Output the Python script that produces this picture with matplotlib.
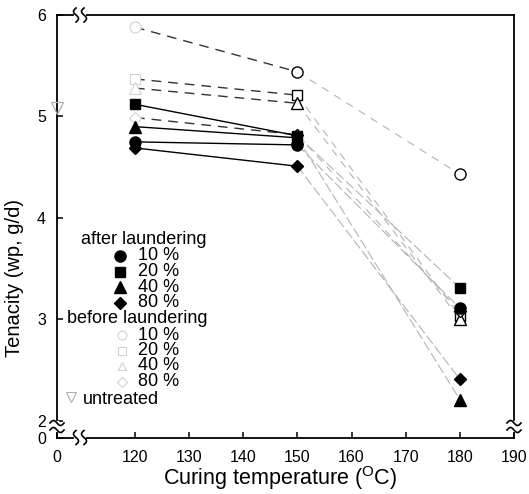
import numpy as np
import matplotlib
matplotlib.use("Agg")
import matplotlib.pyplot as plt

plt.rcParams["font.family"] = ["Liberation Sans", "DejaVu Sans"]
plt.rcParams["mathtext.fontset"] = "custom"
plt.rcParams["mathtext.rm"] = "Liberation Sans"
plt.rcParams["mathtext.it"] = "Liberation Sans:italic"

# ---- data -------------------------------------------------------------
temps = [120, 150, 180]

after_10 = [4.75, 4.72, 3.11]
after_20 = [5.12, 4.81, 3.31]
after_40 = [4.90, 4.79, 2.21]
after_80 = [4.69, 4.51, 2.41]

before_10 = [5.88, 5.44, 4.43]
before_20 = [5.37, 5.21, 3.03]
before_40 = [5.28, 5.13, 3.00]
before_80 = [4.99, 4.82, 3.08]

untreated_temp = [0]
untreated_val = [5.08]

xticks = [0, 120, 130, 140, 150, 160, 170, 180, 190]
yticks = [0, 2, 3, 4, 5, 6]
conc_labels = ["10 %", "20 %", "40 %", "80 %"]

# ---- broken-axis scales -----------------------------------------------
def x_fwd(x):
    x = np.asarray(x, float)
    return np.where(x >= 110, x, 105.6 + x * 4.4 / 110)

def x_inv(p):
    p = np.asarray(p, float)
    return np.where(p >= 110, p, (p - 105.6) * 110 / 4.4)

def y_fwd(y):
    y = np.asarray(y, float)
    return np.where(y >= 2, y, 1.837 + y * 0.163 / 2)

def y_inv(p):
    p = np.asarray(p, float)
    return np.where(p >= 2, p, (p - 1.837) * 2 / 0.163)

W, H = 529, 494
L, R, T, B = 57, 514, 15, 437.5
fig = plt.figure(figsize=(W / 100, H / 100), dpi=100)
ax = fig.add_axes([L / W, 1 - B / H, (R - L) / W, (B - T) / H])
ax.set_xscale("function", functions=(x_fwd, x_inv))
ax.set_yscale("function", functions=(y_fwd, y_inv))
ax.set_xlim(0, 190)
ax.set_ylim(0, 6)

for s in ax.spines.values():
    s.set_linewidth(1.3)

ax.set_xticks(xticks)
ax.set_xticklabels([str(t) for t in xticks])
ax.set_yticks(yticks)
ax.set_yticklabels([str(t) for t in yticks])
ax.tick_params(axis="both", direction="in", length=4, width=1.1, labelsize=11.5)
ax.tick_params(axis="x", pad=9)
ax.tick_params(axis="y", pad=8)
ax.minorticks_off()

# ---- series -----------------------------------------------------------
after = [(after_10, "o", 8), (after_20, "s", 7.5), (after_40, "^", 8), (after_80, "D", 6.5)]
before = [(before_10, "o", 8), (before_20, "s", 7.5), (before_40, "^", 8), (before_80, "D", 6.5)]

for vals, mk, ms in before:
    ax.plot(temps[:2], vals[:2], ls=(0, (7, 5)), lw=1.0, color="#333333", zorder=2)
    ax.plot(temps[1:], vals[1:], ls=(0, (7, 6)), lw=0.8, color="#b4b4b4", zorder=2)
    ax.plot(temps[:1], vals[:1], ls="none", marker=mk, ms=ms, mfc="white",
            mec="#d2d2d2", mew=0.8, zorder=3)
    ax.plot(temps[1:], vals[1:], ls="none", marker=mk, ms=ms, mfc="white",
            mec="black", mew=1.0, zorder=3)

for vals, mk, ms in after:
    ax.plot(temps[:2], vals[:2], ls="-", lw=1.0, color="black", zorder=4)
    ax.plot(temps[1:], vals[1:], ls=(0, (9, 3)), lw=0.8, color="#b4b4b4", zorder=4)
    ax.plot(temps, vals, ls="none", marker=mk, ms=ms, mfc="black", mec="black", zorder=5)

ax.plot(untreated_temp, untreated_val, ls="none", marker="v", ms=8, mfc="none",
        mec="#b0b0b0", mew=0.9, clip_on=False, zorder=5)

# ---- axis labels ------------------------------------------------------
ax.set_xlabel(r"Curing temperature ($^{\mathrm{O}}$C)", fontsize=15.5)
ax.xaxis.set_label_coords((280 - L) / (R - L), (B - 478) / (B - T))
ax.xaxis.label.set_va("center")
ax.set_ylabel("Tenacity (wp, g/d)", fontsize=14.5)
ax.yaxis.set_label_coords((15 - L) / (R - L), (B - 278) / (B - T))
ax.yaxis.label.set_va("center")

# ---- key --------------------------------------------------------------
def px(xp, yp):
    return (xp - L) / (R - L), (B - yp) / (B - T)

key_fs = 13
ax.text(*px(144, 239), "after laundering", transform=ax.transAxes, fontsize=key_fs,
        ha="center", va="center")
for i, (lab, (_, mk, ms)) in enumerate(zip(conc_labels, after)):
    yy = 256 + i * 15.5
    ax.plot(*px(120, yy), transform=ax.transAxes, marker=mk, ms=ms, color="black",
            clip_on=False)
    ax.text(*px(138, yy), lab, transform=ax.transAxes, fontsize=key_fs, va="center")

ax.text(*px(137, 318.5), "before laundering", transform=ax.transAxes, fontsize=key_fs,
        ha="center", va="center")
for i, (lab, (_, mk, ms)) in enumerate(zip(conc_labels, before)):
    yy = 335 + i * 15.5
    ax.plot(*px(122, yy), transform=ax.transAxes, marker=mk, ms=ms * 0.8, mfc="white",
            mec="#d2d2d2", mew=0.8, clip_on=False)
    ax.text(*px(138, yy), lab, transform=ax.transAxes, fontsize=key_fs, va="center")

ax.plot(*px(71, 397), transform=ax.transAxes, marker="v", ms=7, mfc="none",
        mec="#b0b0b0", mew=0.8, clip_on=False)
ax.text(*px(83, 399), "untreated", transform=ax.transAxes, fontsize=key_fs, va="center")

# ---- spine break marks ------------------------------------------------
def squiggle_v(xp, yp, h=7, a=2.5):
    t = np.linspace(-1, 1, 40)
    xs = xp + a * np.sin(np.pi * t)
    ys = yp + h * t
    ax.plot((xs - L) / (R - L), (B - ys) / (B - T), transform=ax.transAxes,
            color="black", lw=1.2, clip_on=False, zorder=10)

def squiggle_h(xp, yp, w=7, a=2.5):
    t = np.linspace(-1, 1, 40)
    xs = xp + w * t
    ys = yp + a * np.sin(np.pi * t)
    ax.plot((xs - L) / (R - L), (B - ys) / (B - T), transform=ax.transAxes,
            color="black", lw=1.2, clip_on=False, zorder=10)

def gap_h(x0, x1, yp):
    ax.plot([(x0 - L) / (R - L), (x1 - L) / (R - L)], [(B - yp) / (B - T)] * 2,
            transform=ax.transAxes, color="white", lw=3, clip_on=False, zorder=9)

def gap_v(xp, y0, y1):
    ax.plot([(xp - L) / (R - L)] * 2, [(B - y0) / (B - T), (B - y1) / (B - T)],
            transform=ax.transAxes, color="white", lw=3, clip_on=False, zorder=9)

for yp in (T, B):
    gap_h(76, 84, yp)
    squiggle_v(76, yp)
    squiggle_v(84, yp)
for xp in (L, R):
    gap_v(xp, 423, 430)
    squiggle_h(xp, 423)
    squiggle_h(xp, 430)

fig.savefig("out.png", dpi=100)
